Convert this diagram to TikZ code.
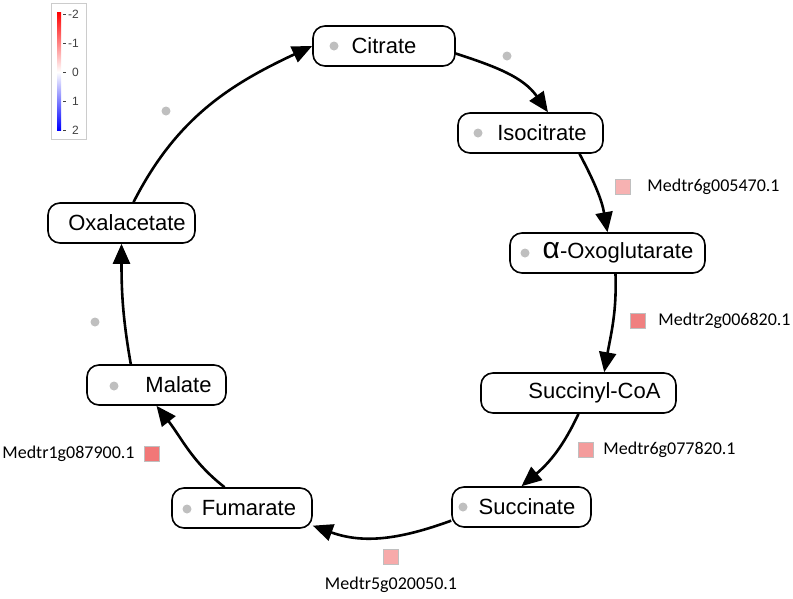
\documentclass[tikz,border=0pt]{standalone}
\usepackage{fontspec}
\setmainfont{Liberation Sans}
\newfontfamily\genefont{Carlito}
\usetikzlibrary{arrows.meta,positioning}

\begin{document}
\begin{tikzpicture}[x=1pt, y=-1pt,
  met/.style={draw, line width=1.6pt, rounded corners=12pt, minimum height=40pt, inner sep=0pt, font=\fontsize{22}{26}\selectfont},
  flow/.style={line width=2.6pt, -{Triangle[length=20pt,width=17pt]}},
  dot/.style={circle, fill=black!25, inner sep=0pt, minimum size=9pt},
  gene/.style={draw=black!25, line width=1.5pt, minimum size=15pt, inner sep=0pt},
  lab/.style={font=\genefont\fontsize{18}{20}\selectfont, inner sep=0pt}]
\useasboundingbox (0,0) rectangle (793,598);

% legend
\draw[black!20, line width=1pt] (51,3) rectangle (86,139);
\shade[top color=red, bottom color=white] (57,12) rectangle (61,72);
\shade[top color=white, bottom color=blue] (57,72) rectangle (61,130);
\foreach \v/\y in {-2/14, -1/43, 0/72, 1/101, 2/130} {
  \draw[black!75, line width=0.8pt] (63,\y) -- (66,\y);
  \node[anchor=east, font=\fontsize{12}{12}\selectfont, text=black!75, inner sep=0pt] at (79,\y) {\v};
}

% metabolites
\node[met, minimum width=142pt] (cit) at (384,46) {Citrate};
\node[met, minimum width=145pt] (iso) at (530.5,133) {\hspace*{23pt}Isocitrate};
\node[met, minimum width=195pt] (oxo) at (607.5,253) {\hspace*{21pt}{\fontsize{30}{30}\selectfont α}-Oxoglutarate};
\node[met, minimum width=195pt] (scoa) at (578.5,393) {\hspace*{32pt}Succinyl-CoA};
\node[met, minimum width=139pt] (suc) at (521.5,507) {\hspace*{11pt}Succinate};
\node[met, minimum width=140pt] (fum) at (242,508) {\hspace*{14pt}Fumarate};
\node[met, minimum width=139pt] (mal) at (156.5,385) {\hspace*{44pt}Malate};
\node[met, minimum width=147pt] (oaa) at (121.5,223) {\hspace*{11pt}Oxalacetate};

\node[dot] (dcit) at (334,46) {};
\node[dot] (diso) at (478,133) {};
\node[dot] (doxo) at (525,253) {};
\node[dot] (dsuc) at (463,507) {};
\node[dot] (dfum) at (187,509) {};
\node[dot] (dmal) at (114,386) {};
\node[dot] (d1) at (507,56) {};
\node[dot] (d2) at (166,111) {};
\node[dot] (d3) at (95,322) {};

% cycle
\draw[flow] (oaa.60) to[out=63, in=205] (cit.west);
\draw[flow] (cit.-6) to[out=-18, in=125] (iso.50);
\draw[flow] (iso.-23) to[out=-62, in=100] (oxo.north);
\draw[flow] (oxo.-69) to[out=-88, in=80] (scoa.39);
\draw[flow] (scoa.south) to[out=-115, in=40] (suc.north);
\draw[flow] (suc.191) to[out=200, in=-20] (fum.-14);
\draw[flow] (fum.130) to[out=142, in=-52] (mal.south);
\draw[flow] (mal.141) to[out=100, in=-90] (oaa.south);

% genes
\node[gene, fill={rgb,255:red,247;green,178;blue,178}] (g1) at (623,187) {};
\node[lab, right=16pt of g1] (t1) {Medtr6g005470.1};
\node[gene, fill={rgb,255:red,240;green,128;blue,128}] (g2) at (638,321) {};
\node[lab, right=12pt of g2] (t2) {Medtr2g006820.1};
\node[gene, fill={rgb,255:red,244;green,156;blue,156}] (g3) at (586,450) {};
\node[lab, right=9pt of g3] (t3) {Medtr6g077820.1};
\node[gene, fill={rgb,255:red,242;green,119;blue,119}] (g4) at (152,454) {};
\node[lab, left=9pt of g4] (t4) {Medtr1g087900.1};
\node[gene, fill={rgb,255:red,247;green,170;blue,170}] (g5) at (391,557) {};
\node[lab, below=12pt of g5] (t5) {Medtr5g020050.1};

\end{tikzpicture}
\end{document}
